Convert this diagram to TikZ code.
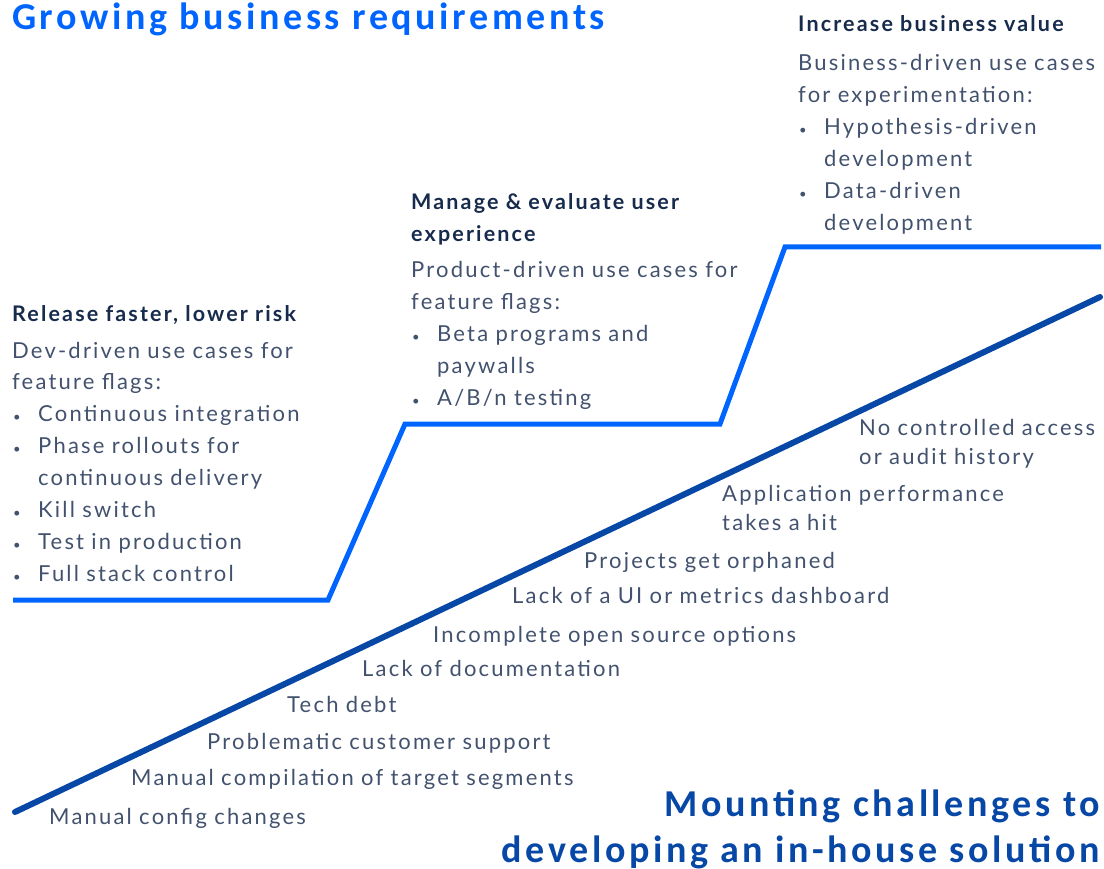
\documentclass[tikz,border=0pt]{standalone}
\usepackage{fontspec}
\setmainfont{Lato}[LetterSpace=10]
\newfontfamily\headfont{Carlito}[LetterSpace=9.5]
\usetikzlibrary{calc}

\definecolor{flagblue}{HTML}{0065FF}
\definecolor{debtblue}{HTML}{0747A6}
\definecolor{navy}{HTML}{172B4D}
\definecolor{slate}{HTML}{42526E}

\newcommand{\itm}{\makebox[26pt][l]{\hspace*{1pt}{\fontsize{13}{13}\selectfont\textbullet}}}
\newcommand{\cnt}{\hspace*{26pt}}

\tikzset{
    bigtitle/.style={font=\headfont\bfseries\fontsize{38}{46}\selectfont, inner sep=0pt},
    stagehead/.style={font=\bfseries\fontsize{21.5}{32}\selectfont, text=navy, inner sep=0pt, anchor=base west, text width=400pt, align=left},
    stagebody/.style={font=\fontsize{22}{32}\selectfont, text=slate, inner sep=0pt, anchor=base west, text width=400pt, align=left},
    pain/.style={font=\fontsize{22}{29}\selectfont, text=slate, inner sep=0pt, anchor=base west, text width=500pt, align=left},
}

\begin{document}
\begin{tikzpicture}[x=1pt, y=-1pt]
        \useasboundingbox (0,0) rectangle (1104,869);
        % staircase of feature flag use cases
        \coordinate (s0) at (13,600);
        \coordinate (s1) at (328,600);
        \coordinate (s2) at (405,424);
        \coordinate (s3) at (720,424);
        \coordinate (s4) at (785,247);
        \coordinate (s5) at (1101,247);
        \draw[flagblue, line width=5pt, line join=miter] (s0) -- (s1) -- (s2) -- (s3) -- (s4) -- (s5);
        % rising cost of building it in-house
        \coordinate (d0) at (15,812);
        \coordinate (d1) at (1100,297);
        \draw[debtblue, line width=6pt, line cap=round] (d0) -- (d1);

        \node[bigtitle, text=flagblue, anchor=base west] (grow) at (12,30) {Growing business requirements};
        \node[bigtitle, text=debtblue, anchor=base east] (mount1) at (1100,816) {Mounting challenges to};
        \node[bigtitle, text=debtblue, anchor=base east] (mount2) at (1100,862) {developing an in-house solution};

        % stage 1
        \node[stagehead] (relhead) at (12,322) {Release faster, lower risk};
        \node[stagebody] (relbody) at (12,358) {Dev-driven use cases for\\feature flags:\\
            \itm Continuous integration\\\itm Phase rollouts for\\\cnt continuous delivery\\
            \itm Kill switch\\\itm Test in production\\\itm Full stack control};
        % stage 2
        \node[stagehead] (manhead) at (411,210) {Manage \& evaluate user\\experience};
        \node[stagebody] (manbody) at (411,278) {Product-driven use cases for\\feature flags:\\
            \itm Beta programs and\\\cnt paywalls\\\itm A/B/n testing};
        % stage 3
        \node[stagehead] (valhead) at (798,32) {Increase business value};
        \node[stagebody] (valbody) at (798,71) {Business-driven use cases\\for experimentation:\\
            \itm Hypothesis-driven\\\cnt development\\\itm Data-driven\\\cnt development};

        % challenges along the line
        \node[pain] (p10) at (859,435) {No controlled access\\or audit history};
        \node[pain] (p9) at (722,501) {Application performance\\takes a hit};
        \node[pain] (p8) at (584,568) {Projects get orphaned};
        \node[pain] (p7) at (512,603) {Lack of a UI or metrics dashboard};
        \node[pain] (p6) at (433,642) {Incomplete open source options};
        \node[pain] (p5) at (362,676) {Lack of documentation};
        \node[pain] (p4) at (287,712) {Tech debt};
        \node[pain] (p3) at (207,749) {Problematic customer support};
        \node[pain] (p2) at (131,785) {Manual compilation of target segments};
        \node[pain] (p1) at (49,824) {Manual config changes};
\end{tikzpicture}
\end{document}
